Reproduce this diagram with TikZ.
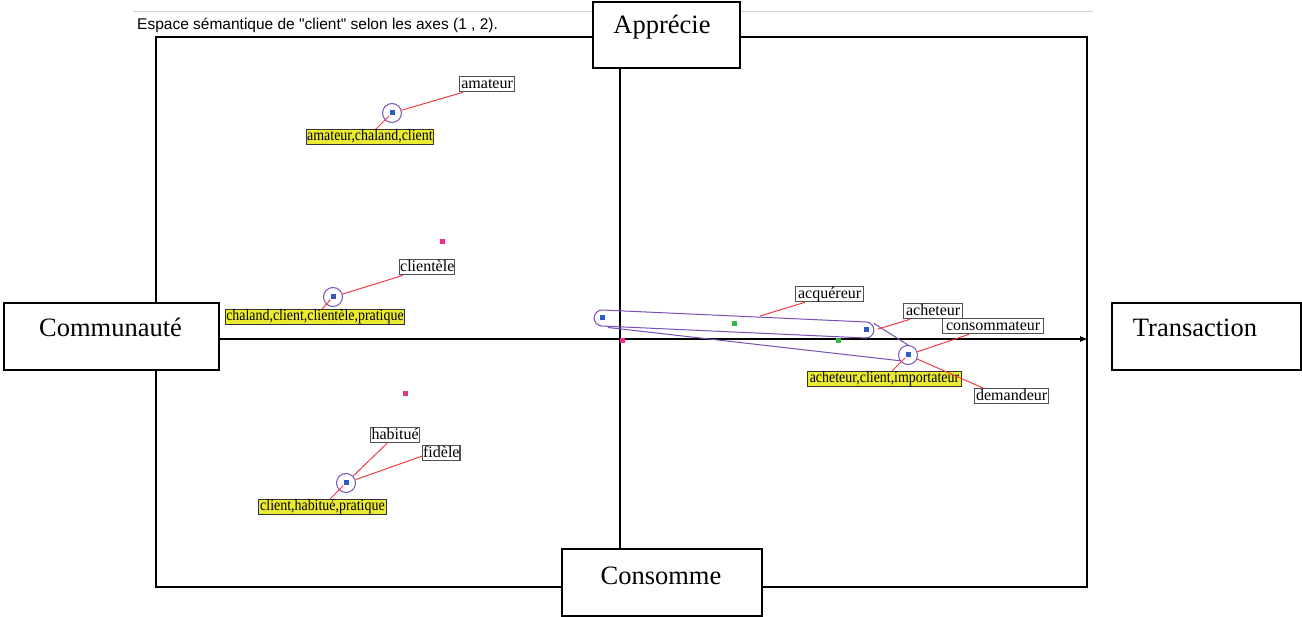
\documentclass[tikz,border=0pt]{standalone}
\usepackage{fontspec}
\setmainfont{Liberation Serif}
\newfontfamily\titlefont{Liberation Sans}
\newfontfamily\narrowfont[FakeStretch=0.87]{Liberation Serif}
\usetikzlibrary{arrows.meta}
\definecolor{ptblue}{RGB}{50,90,190}
\definecolor{ptgreen}{RGB}{60,180,75}
\definecolor{ptpink}{RGB}{230,50,140}
\definecolor{ringpurple}{RGB}{120,80,180}
\definecolor{linkred}{RGB}{240,60,70}
\definecolor{labyellow}{RGB}{235,235,50}
\definecolor{labgray}{RGB}{80,80,80}
\definecolor{topgray}{RGB}{215,210,205}
\begin{document}
\begin{tikzpicture}[x=1pt,y=-1pt,
  bigbox/.style={draw, line width=2pt, fill=white, inner sep=0pt, anchor=north west},
  bigtext/.style={font=\fontsize{26.5}{30}\selectfont, anchor=base, inner sep=0pt},
  wlab/.style={draw=labgray, line width=1.3pt, fill=white, anchor=north west, inner xsep=0.5pt, inner ysep=0.5pt, text height=11pt, text depth=3pt, minimum height=15pt, font=\fontsize{16}{17}\selectfont},
  ylab/.style={draw=black!80, line width=0.9pt, fill=labyellow, anchor=north west, inner xsep=0.5pt, inner ysep=0.5pt, text height=11pt, text depth=3pt, minimum height=15pt, font=\narrowfont\fontsize{16}{17}\selectfont},
  ring/.style={circle, draw=ringpurple, line width=1pt, minimum size=19pt, inner sep=0pt},
  dot/.style={rectangle, minimum size=5pt, inner sep=0pt},
  link/.style={draw=linkred, line width=1pt},
  hull/.style={draw=ringpurple, line width=1pt},
  axis/.style={draw=black, line width=1.2pt},
]
\useasboundingbox (0,0) rectangle (1302,617);
% top rule and title
\draw[topgray, line width=1pt] (133,11.5) -- (1093,11.5);
\node[anchor=base west, font=\titlefont\fontsize{15.5}{18}\selectfont, inner sep=0pt] (title) at (137,30) {Espace sémantique de "client" selon les axes (1 , 2).};
% frame
\draw[axis] (156,37) rectangle (1087,587);
% axis boxes
\node[bigbox, minimum width=147pt, minimum height=66pt] (appr) at (592,1) {};
\node[bigbox, minimum width=215pt, minimum height=67pt] (comm) at (3,302) {};
\node[bigbox, minimum width=189pt, minimum height=67pt] (trans) at (1111,302) {};
\node[bigbox, minimum width=200pt, minimum height=67pt] (cons) at (561,548) {};
\node[bigtext] (tappr) at (662,34) {Apprécie};
\node[bigtext] (tcomm) at (110.5,337) {Communauté};
\node[bigtext] (ttrans) at (1195,337) {Transaction};
\node[bigtext] (tcons) at (661,584) {Consomme};
% axes
\coordinate (vx) at (620,0);
\coordinate (hy) at (0,339);
\coordinate (hend) at (1088,339);
\draw[axis] (appr.south -| vx) -- (cons.north -| vx);
\draw[axis, -{Latex[length=8pt,width=6pt]}] (comm.east |- hy) -- (hend);
% hull shapes
\draw[hull, rounded corners=8pt, rotate around={-2.6:(734,324)}] (594,316) rectangle (874,332);
\coordinate (capR) at (874,323.5);
\coordinate (capL) at (608,327.5);
\coordinate (acqpt) at (760,316);
\coordinate (achpt) at (878,329);
% rings
\node[ring] (c1) at (392,113) {};
\node[ring] (c2) at (333,297) {};
\node[ring] (c3) at (346,483) {};
\node[ring] (c4) at (908,355) {};
\draw[hull] (capR) -- (c4.north);
\draw[hull] (capL) -- (c4.215);
% labels
\node[wlab, minimum width=55pt] (la) at (459,76) {amateur};
\node[ylab, minimum width=127pt] (ya) at (306,129) {amateur,chaland,client};
\node[wlab, minimum width=54pt] (lc) at (399,259) {clientèle};
\node[ylab, minimum width=179pt] (yc) at (225,309) {chaland,client,clientèle,pratique};
\node[wlab, minimum width=49pt] (lh) at (370,427) {habitué};
\node[wlab, minimum width=37pt] (lf) at (422,445) {fidèle};
\node[ylab, minimum width=128pt] (yh) at (258,499) {client,habitué,pratique};
\node[wlab, minimum width=68pt] (lq) at (795,286) {acquéreur};
\node[wlab, minimum width=59pt] (lt) at (903,303) {acheteur};
\node[wlab, minimum width=101pt] (lm) at (942,318) {consommateur};
\node[wlab, minimum width=74pt] (ld) at (974,388) {demandeur};
\node[ylab, minimum width=154pt] (yt) at (807,371) {acheteur,client,importateur};
% points
\node[dot, fill=ptblue] (p1) at (392,113) {};
\node[dot, fill=ptblue] (p2) at (333,297) {};
\node[dot, fill=ptblue] (p3) at (346,483) {};
\node[dot, fill=ptblue] (p4) at (908,355) {};
\node[dot, fill=ptblue] (p5) at (602,317.5) {};
\node[dot, fill=ptblue] (p6) at (866,329.5) {};
\node[dot, fill=ptgreen] (g1) at (734,324) {};
\node[dot, fill=ptgreen] (g2) at (838,341) {};
\node[dot, fill=ptpink] (k1) at (442,242) {};
\node[dot, fill=ptpink] (k2) at (405,394) {};
\node[dot, fill=ptpink] (k3) at (622,341) {};
% connectors
\draw[link] (c1) -- ([xshift=4pt]la.south west);
\draw[link] (p1) -- ([xshift=70pt]ya.north west);
\draw[link] (c2) -- ([xshift=4pt]lc.south west);
\draw[link] (p2) -- ([xshift=97pt]yc.north west);
\draw[link] (c3) -- ([xshift=17pt]lh.south west);
\draw[link] (c3) -- ([yshift=-3pt]lf.west);
\draw[link] (p3) -- ([xshift=72pt]yh.north west);
\draw[link] (acqpt) -- ([xshift=10pt]lq.south west);
\draw[link] (achpt) -- ([xshift=7pt]lt.south west);
\draw[link] (c4) -- ([xshift=27pt]lm.south west);
\draw[link] (c4) -- ([xshift=9pt]ld.north west);
\draw[link] (p4) -- ([xshift=85pt]yt.north west);
\end{tikzpicture}
\end{document}
